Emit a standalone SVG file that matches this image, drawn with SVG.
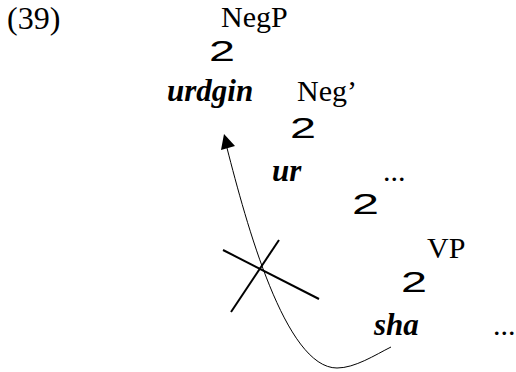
<svg xmlns="http://www.w3.org/2000/svg" width="516" height="372" viewBox="0 0 516 372">
<style>
.t{font-family:"Liberation Serif","Times New Roman",serif;font-size:30px;fill:#000}
.b{font-family:"Liberation Serif","Times New Roman",serif;font-size:31px;font-weight:bold;font-style:italic;fill:#000}
.br{font-family:"Liberation Sans",Arial,sans-serif;font-size:30px;fill:#000}
.cr{stroke:#000;stroke-width:2;fill:none}
.mv{stroke:#000;stroke-width:1;fill:none}
</style>
<rect width="516" height="372" fill="#fff"/>
<g id="label"><text class="t" x="7" y="29" style="font-size:32px">(39)</text></g>
<g id="negp"><text class="t" x="221" y="27">NegP</text><text class="br" x="209" y="61" textLength="26" lengthAdjust="spacingAndGlyphs">2</text></g>
<g id="urdgin"><text class="b" x="167" y="101">urdgin</text></g>
<g id="negbar"><text class="t" x="297" y="101">Neg’</text><text class="br" x="290" y="138" textLength="26" lengthAdjust="spacingAndGlyphs">2</text></g>
<g id="ur"><text class="b" x="272" y="181">ur</text></g>
<g id="dots1"><text class="t" x="383" y="181">...</text><text class="br" x="352" y="214" textLength="27" lengthAdjust="spacingAndGlyphs">2</text></g>
<g id="vp"><text class="t" x="427" y="258">VP</text><text class="br" x="401" y="292" textLength="26" lengthAdjust="spacingAndGlyphs">2</text></g>
<g id="sha"><text class="b" x="374" y="335">sha</text></g>
<g id="dots2"><text class="t" x="493" y="335">...</text></g>
<g id="connectors">
<path class="mv" d="M227,148 C246,222 285,368 337,368 C355,368 375,355 391,347"/>
<polygon points="224,134 221,150 235,146" fill="#000"/>
<line class="cr" x1="223" y1="250" x2="319" y2="299"/>
<line class="cr" x1="231" y1="312" x2="279" y2="240"/>
</g>
</svg>
